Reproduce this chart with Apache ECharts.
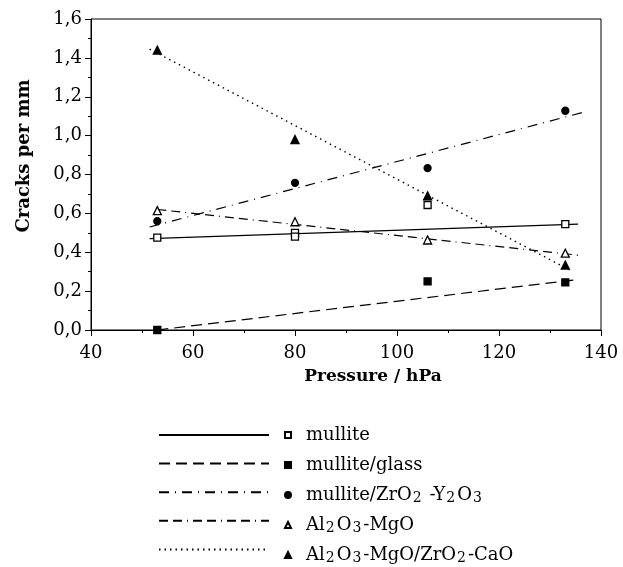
<!DOCTYPE html>
<html>
<head>
<meta charset="utf-8">
<script src="https://cdn.jsdelivr.net/npm/echarts@6/dist/echarts.min.js"></script>
<style>
    html, body { margin: 0; padding: 0; background: #fff; }
    #chart { width: 623px; height: 567px; }
</style>
</head>
<body>
<div id="chart"></div>
<script>
// measured points (pressure in hPa, cracks per mm)
var mulliteX = [53, 80, 80, 106, 133];
var mulliteY = [0.475, 0.50, 0.48, 0.643, 0.545];
var glassX = [53, 106, 133];
var glassY = [0.0, 0.25, 0.245];
var zrX = [53, 80, 106, 133];
var zrY = [0.56, 0.757, 0.833, 1.128];
var mgoX = [53, 80, 106, 133];
var mgoY = [0.614, 0.557, 0.463, 0.395];
var caoX = [53, 80, 106, 133];
var caoY = [1.44, 0.98, 0.69, 0.334];

// trend lines, end points
var mulliteFitX = [51.5, 135.5];
var mulliteFitY = [0.47, 0.545];
var glassFitX = [53, 135.5];
var glassFitY = [0.0, 0.26];
var zrFitX = [51.5, 136.5];
var zrFitY = [0.53, 1.12];
var mgoFitX = [53, 135.5];
var mgoFitY = [0.62, 0.385];
var caoFitX = [51.5, 134.5];
var caoFitY = [1.445, 0.30];

var names = ['mullite', 'mullite/glass', 'mullite/ZrO2-Y2O3', 'Al2O3-MgO', 'Al2O3-MgO/ZrO2-CaO'];
var richNames = {
    'mullite': 'mullite',
    'mullite/glass': 'mullite/glass',
    'mullite/ZrO2-Y2O3': 'mullite/ZrO{s|2} -Y{s|2}O{s|3}',
    'Al2O3-MgO': 'Al{s|2}O{s|3}-MgO',
    'Al2O3-MgO/ZrO2-CaO': 'Al{s|2}O{s|3}-MgO/ZrO{s|2}-CaO'
};
var fitNames = ['fit 1', 'fit 2', 'fit 3', 'fit 4', 'fit 5'];

var serif = 'DejaVu Serif';

var zip = function (xs, ys) {
    return xs.map(function (x, i) { return [x, ys[i]]; });
};

var fitLine = function (name, xs, ys, type, width) {
    return {
        name: name,
        type: 'line',
        data: zip(xs, ys),
        symbol: 'none',
        silent: true,
        z: 2,
        itemStyle: {color: '#000'},
        lineStyle: {color: '#000', width: width || 1.2, type: type}
    };
};

var points = function (name, xs, ys, symbol, size, fill) {
    return {
        name: name,
        type: 'scatter',
        data: zip(xs, ys),
        symbol: symbol,
        symbolSize: size,
        z: 3,
        itemStyle: {color: fill, opacity: 1, borderColor: '#000', borderWidth: 1.3}
    };
};

var chart = echarts.init(document.getElementById('chart'));

chart.setOption({
    animation: false,
    backgroundColor: '#fff',
    grid: {
        left: 91, right: 22, top: 19, bottom: 237,
        show: true, borderColor: '#000', borderWidth: 1
    },
    xAxis: {
        type: 'value',
        min: 40, max: 140, interval: 20,
        name: 'Pressure / hPa',
        nameLocation: 'middle',
        nameGap: 38,
        nameTextStyle: {
            fontFamily: serif, fontWeight: 'bold', fontSize: 17, color: '#000',
            padding: [0, 0, 0, 54]
        },
        axisLine: {lineStyle: {color: '#000', width: 1}},
        axisTick: {length: 6, lineStyle: {color: '#000'}},
        minorTick: {show: true, splitNumber: 2, length: 3, lineStyle: {color: '#000'}},
        splitLine: {show: false},
        axisLabel: {fontFamily: serif, fontSize: 18, color: '#000', margin: 14}
    },
    yAxis: {
        type: 'value',
        min: 0, max: 1.6, interval: 0.2,
        name: 'Cracks per mm',
        nameLocation: 'middle',
        nameGap: 58,
        nameTextStyle: {
            fontFamily: serif, fontWeight: 'bold', fontSize: 18, color: '#000',
            padding: [0, 0, 0, 37]
        },
        axisLine: {lineStyle: {color: '#000', width: 1}},
        axisTick: {length: 6, lineStyle: {color: '#000'}},
        minorTick: {show: true, splitNumber: 2, length: 3, lineStyle: {color: '#000'}},
        splitLine: {show: false},
        axisLabel: {
            fontFamily: serif, fontSize: 18, color: '#000', margin: 9,
            formatter: function (v) { return v.toFixed(1).replace('.', ','); }
        }
    },
    legend: [{
        // line styles column
        data: fitNames,
        orient: 'vertical',
        left: 158, top: 428,
        padding: 0,
        itemWidth: 110, itemHeight: 14, itemGap: 16,
        selectedMode: false,
        itemStyle: {opacity: 0},
        formatter: function () { return ''; },
        textStyle: {fontSize: 1}
    }, {
        // markers + names column
        data: names,
        orient: 'vertical',
        left: 284, top: 425,
        padding: 0,
        itemWidth: 6, itemHeight: 6, itemGap: 10,
        selectedMode: false,
        formatter: function (n) { return richNames[n]; },
        textStyle: {
            fontFamily: serif, fontSize: 18, color: '#000', lineHeight: 20,
            padding: [0, 0, 0, 10],
            rich: {
                s: {fontFamily: serif, fontSize: 14, lineHeight: 20, verticalAlign: 'bottom', padding: [0, 2, 0, 1]}
            }
        }
    }],
    series: [
        fitLine('fit 1', mulliteFitX, mulliteFitY, 'solid'),
        fitLine('fit 2', glassFitX, glassFitY, [11, 6]),
        fitLine('fit 3', zrFitX, zrFitY, [10, 6, 1, 6]),
        fitLine('fit 4', mgoFitX, mgoFitY, [9, 5, 9, 5, 1, 5]),
        fitLine('fit 5', caoFitX, caoFitY, [1.5, 4], 1.4),
        points('mullite', mulliteX, mulliteY, 'rect', 7, '#fff'),
        points('mullite/glass', glassX, glassY, 'rect', 7, '#000'),
        points('mullite/ZrO2-Y2O3', zrX, zrY, 'circle', 7, '#000'),
        points('Al2O3-MgO', mgoX, mgoY, 'triangle', 8, '#fff'),
        points('Al2O3-MgO/ZrO2-CaO', caoX, caoY, 'triangle', 8, '#000')
    ]
});
</script>
</body>
</html>
